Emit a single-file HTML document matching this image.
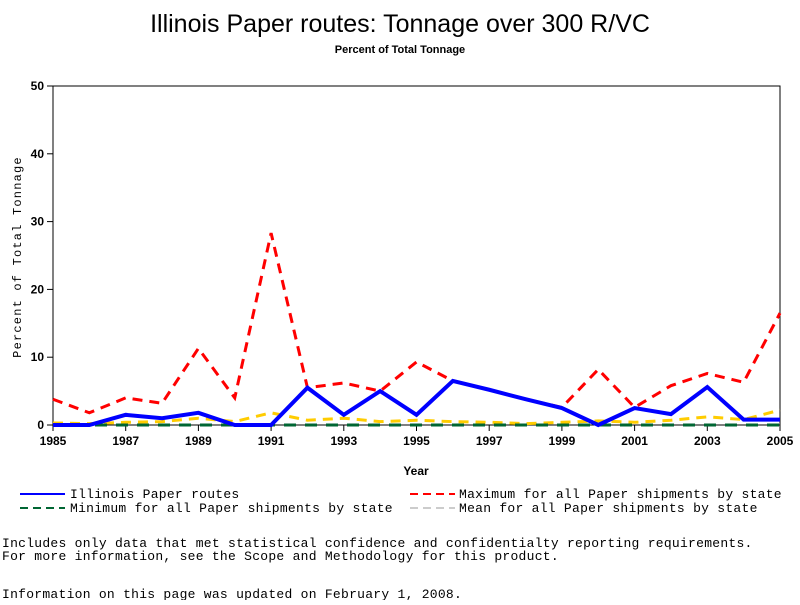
<!DOCTYPE html>
<html><head><meta charset="utf-8"><style>
body{margin:0;background:#fff;width:800px;height:600px;overflow:hidden}
svg text{font-family:"Liberation Sans",sans-serif}
.mono{font-family:"Liberation Mono",monospace}
</style></head><body>
<svg id="c" width="800" height="600">
<text x="400" y="32" text-anchor="middle" font-size="25">Illinois Paper routes: Tonnage over 300 R/VC</text>
<text x="400" y="53" text-anchor="middle" font-size="11" font-weight="bold">Percent of Total Tonnage</text>
<g id="axes"></g><g id="series"></g>
<text x="416" y="475" text-anchor="middle" font-size="12" font-weight="bold">Year</text>
<text transform="translate(21,257) rotate(-90)" text-anchor="middle" font-size="12" letter-spacing="1.2" class="mono">Percent of Total Tonnage</text>
<g class="mono" font-size="13" letter-spacing="0.27">
<line x1="20" y1="494" x2="65" y2="494" stroke="#00f" stroke-width="2"/><text x="70" y="498" class="mono">Illinois Paper routes</text>
<line x1="410" y1="494" x2="455" y2="494" stroke="#f00" stroke-width="2" stroke-dasharray="8,5"/><text x="459" y="498" class="mono">Maximum for all Paper shipments by state</text>
<line x1="20" y1="508" x2="65" y2="508" stroke="#063" stroke-width="2" stroke-dasharray="8,5"/><text x="70" y="512" class="mono">Minimum for all Paper shipments by state</text>
<line x1="410" y1="508" x2="455" y2="508" stroke="#ccc" stroke-width="2" stroke-dasharray="8,5"/><text x="459" y="512" class="mono">Mean for all Paper shipments by state</text>
</g>
<g font-size="13" letter-spacing="0.27">
<text x="2" y="547" class="mono">Includes only data that met statistical confidence and confidentialty reporting requirements.</text>
<text x="2" y="560" class="mono">For more information, see the Scope and Methodology for this product.</text>
<text x="2" y="598" class="mono">Information on this page was updated on February 1, 2008.</text>
</g>
</svg>
<script>
const years=[1985,1986,1987,1988,1989,1990,1991,1992,1993,1994,1995,1996,1997,1998,1999,2000,2001,2002,2003,2004,2005];
const illinois=[0,0,1.5,1.0,1.8,0,0,5.5,1.5,5,1.5,6.5,5.2,3.8,2.5,0,2.5,1.6,5.6,0.8,0.8];
const maxVals=[3.8,1.8,4,3.2,11.3,4,28.3,5.5,6.2,5,9.3,6.5,5.2,3.8,2.6,8.2,2.6,5.8,7.6,6.3,16.5];
const minVals=[0,0,0,0,0,0,0,0,0,0,0,0,0,0,0,0,0,0,0,0,0];
const meanVals=[0.3,0.2,0.4,0.5,1.0,0.5,1.8,0.7,1.0,0.5,0.7,0.5,0.4,0.2,0.4,0.6,0.4,0.7,1.2,0.8,2.2];
const yTicks=[0,10,20,30,40,50];
const xTicks=[1985,1987,1989,1991,1993,1995,1997,1999,2001,2003,2005];
const X0=53,X1=780,Y0=425,Y1=86;
const xs=v=>X0+(v-1985)/(2005-1985)*(X1-X0);
const ys=v=>Y0-v/50*(Y0-Y1);
const NS='http://www.w3.org/2000/svg';
function mk(t,a,p){const e=document.createElementNS(NS,t);for(const k in a)e.setAttribute(k,a[k]);p.appendChild(e);return e;}
const ax=document.getElementById('axes'),se=document.getElementById('series');
const frame=mk('rect',{x:X0,y:Y1,width:X1-X0,height:Y0-Y1,fill:'none',stroke:'#000','stroke-width':1},ax);


yTicks.forEach(v=>{mk('line',{x1:X0-6,x2:X0,y1:ys(v),y2:ys(v),stroke:'#000'},ax);
const t=mk('text',{x:X0-9,y:ys(v)+4,'text-anchor':'end','font-size':12,'font-weight':'bold'},ax);t.textContent=v;

});
xTicks.forEach(v=>{mk('line',{x1:xs(v),x2:xs(v),y1:Y0,y2:Y0+6,stroke:'#000'},ax);
const t=mk('text',{x:xs(v),y:Y0+20,'text-anchor':'middle','font-size':12,'font-weight':'bold'},ax);t.textContent=v;

});
function line(vals,color,w,dash,name){const p=mk('polyline',{points:vals.map((v,i)=>xs(years[i])+','+ys(v)).join(' '),fill:'none',stroke:color,'stroke-width':w,'stroke-dasharray':dash||'none'},se);

}
line(meanVals,'#fc0',3,'10,7','mean-line');
line(minVals,'#063',3,'12,9','min-line');
line(maxVals,'#f00',3,'10,7','max-line');
line(illinois,'#00f',4,null,'illinois-line');
</script>
</body></html>
